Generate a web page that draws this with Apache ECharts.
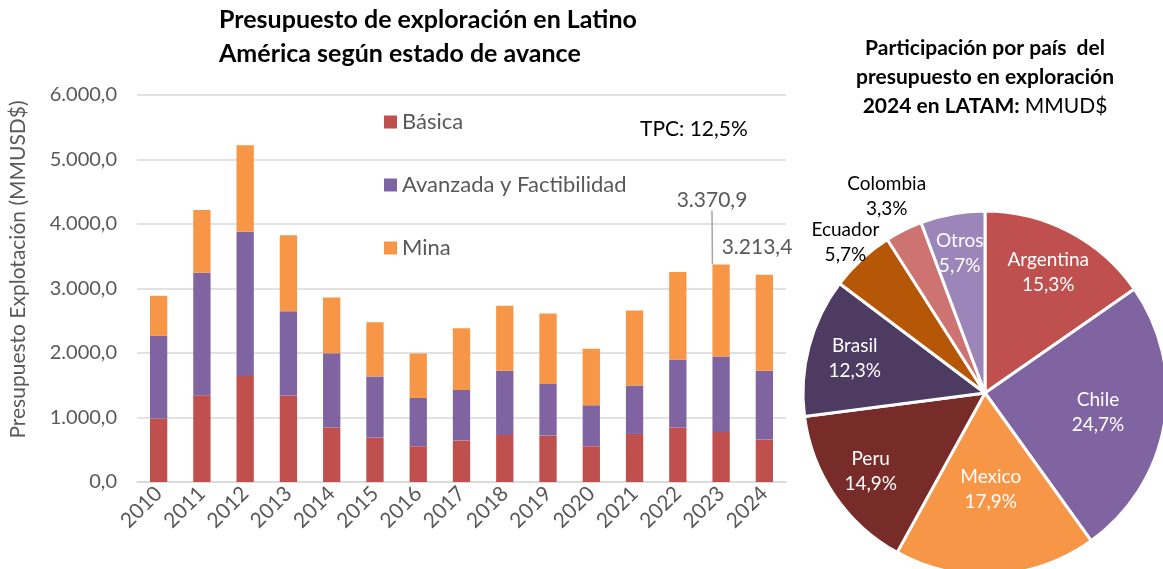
<!DOCTYPE html>
<html>
<head>
<meta charset="utf-8">
<script src="https://cdn.jsdelivr.net/npm/echarts@6/dist/echarts.min.js"></script>
<style>
  html, body { margin: 0; padding: 0; background: #fff; }
  #main { width: 1163px; height: 569px; }
</style>
</head>
<body>
<div id="main"></div>
<script>
var years = ['2010', '2011', '2012', '2013', '2014', '2015', '2016', '2017', '2018', '2019', '2020', '2021', '2022', '2023', '2024']
var basica = [984, 1345, 1645, 1341, 844, 689, 554, 642, 729, 720, 554, 745, 844, 776, 658]
var avanzada = [1282, 1899, 2235, 1308, 1153, 947, 750, 786, 994, 801, 636, 751, 1055, 1170, 1065]
var mina = [621, 973, 1340, 1175, 865, 842, 688, 957, 1008, 1092, 874, 1164, 1355, 1424.9, 1490.4]

var paises = ['Argentina', 'Chile', 'Mexico', 'Peru', 'Brasil', 'Ecuador', 'Colombia', 'Otros']
var participacion = [15.3, 24.7, 17.9, 14.9, 12.3, 5.7, 3.3, 5.7]

var font = 'Lato'
var gris = '#595959'
var pieColors = ['#C0504D', '#8064A2', '#F79646', '#772C2A', '#4D3B62', '#B65708', '#CD7371', '#9C85B8']
var pieCenter = [985, 393]
var pieR = 182
// distancia del rotulo al centro, como fraccion del radio
var labelR = [0.75, 0.63, 0.53, 0.76, 0.74, 1.13, 1.21, 0.78]

function fmt (v, d) {
  var s = v.toFixed(d).split('.')
  s[0] = s[0].replace(/\B(?=(\d{3})+(?!\d))/g, '.')
  return s.join(',')
}

var total = function (i) { return basica[i] + avanzada[i] + mina[i] }
var sumaPie = participacion.reduce(function (a, b) { return a + b }, 0)

var minaData = mina.map(function (v, i) {
  if (i >= 13) {
    return {
      value: v,
      label: {
        show: true,
        position: 'top',
        formatter: function () { return fmt(total(i), 1) }
      },
      labelLine: { show: i === 13 }
    }
  }
  return v
})

var pieData = paises.map(function (p, i) {
  var fuera = i === 5 || i === 6
  return {
    name: p,
    value: participacion[i],
    itemStyle: { color: pieColors[i] },
    label: { color: fuera ? '#000' : '#fff' }
  }
})

var myChart = echarts.init(document.getElementById('main'))
var option = {
  backgroundColor: '#fff',
  animation: false,
  textStyle: { fontFamily: font },
  title: [
    {
      text: 'Presupuesto de exploración en Latino\nAmérica según estado de avance',
      left: 219,
      top: 3,
      padding: 0,
      textStyle: { fontFamily: font, fontSize: 25, fontWeight: 'bold', color: '#000', lineHeight: 34 }
    },
    {
      text: 'Participación por país  del\npresupuesto en exploración\n{b|2024 en LATAM:} {n|MMUD$}',
      left: 985,
      top: 34,
      padding: 0,
      textAlign: 'center',
      textStyle: {
        fontFamily: font, fontSize: 21, fontWeight: 'bold', color: '#000', lineHeight: 29,
        rich: {
          b: { fontFamily: font, fontSize: 21, fontWeight: 'bold', color: '#000', lineHeight: 29 },
          n: { fontFamily: font, fontSize: 21, fontWeight: 'normal', color: '#000', lineHeight: 29 }
        }
      }
    },
    {
      text: 'TPC: 12,5%',
      left: 640,
      top: 119,
      padding: 0,
      textStyle: { fontFamily: font, fontSize: 21, fontWeight: 'normal', color: '#000' }
    }
  ],
  legend: {
    orient: 'vertical',
    left: 384,
    top: 111,
    padding: 0,
    itemGap: 41,
    itemWidth: 13,
    itemHeight: 13,
    icon: 'rect',
    data: ['Básica', 'Avanzada y Factibilidad', 'Mina'],
    textStyle: { fontFamily: font, fontSize: 22, color: gris }
  },
  grid: { left: 137, right: 377, top: 95, bottom: 87 },
  xAxis: {
    type: 'category',
    data: years,
    axisLine: { lineStyle: { color: '#D9D9D9', width: 1.5 } },
    axisTick: { show: false },
    axisLabel: { rotate: 45, fontFamily: font, fontSize: 21, color: gris, margin: 8 }
  },
  yAxis: {
    type: 'value',
    min: 0,
    max: 6000,
    interval: 1000,
    name: 'Presupuesto Explotación (MMUSD$)',
    nameLocation: 'middle',
    nameGap: 108,
    nameTextStyle: { fontFamily: font, fontSize: 21, color: gris, padding: [0, 0, 0, 38] },
    axisLine: { show: false },
    axisTick: { show: false },
    axisLabel: {
      fontFamily: font, fontSize: 20, color: gris, margin: 20,
      formatter: function (v) { return fmt(v, 1) }
    },
    splitLine: { lineStyle: { color: '#D9D9D9', width: 1.5 } }
  },
  series: [
    {
      name: 'Básica', type: 'bar', stack: 'a', barWidth: '40%',
      itemStyle: { color: '#C0504D' },
      data: basica
    },
    {
      name: 'Avanzada y Factibilidad', type: 'bar', stack: 'a',
      itemStyle: { color: '#8064A2' },
      data: avanzada
    },
    {
      name: 'Mina', type: 'bar', stack: 'a',
      itemStyle: { color: '#F79646' },
      label: { fontFamily: font, fontSize: 21, color: gris },
      labelLine: { lineStyle: { color: '#A6A6A6', width: 1.5 } },
      labelLayout: function (p) {
        if (p.dataIndex === 13) {
          return {
            x: 712, y: 200, align: 'center', verticalAlign: 'middle',
            labelLinePoints: [[712, 219], [p.rect.x + p.rect.width / 2, p.rect.y], [p.rect.x + p.rect.width / 2, p.rect.y]]
          }
        }
        if (p.dataIndex === 14) {
          return { x: 757, y: 247, align: 'center', verticalAlign: 'middle' }
        }
      },
      data: minaData
    },
    {
      type: 'pie',
      center: pieCenter,
      radius: pieR,
      startAngle: 90,
      clockwise: true,
      itemStyle: { borderColor: '#fff', borderWidth: 3 },
      label: {
        show: true,
        position: 'inside',
        fontFamily: font,
        fontSize: 19,
        lineHeight: 25,
        formatter: function (p) { return p.name + '\n' + fmt(p.value, 1) + '%' }
      },
      labelLine: { show: false },
      labelLayout: function (p) {
        var i = p.dataIndex
        var antes = 0
        for (var j = 0; j < i; j++) antes += participacion[j]
        var a = (antes + participacion[i] / 2) / sumaPie * Math.PI * 2
        var r = labelR[i] * pieR
        return {
          x: pieCenter[0] + r * Math.sin(a),
          y: pieCenter[1] - r * Math.cos(a),
          align: 'center',
          verticalAlign: 'middle'
        }
      },
      data: pieData
    }
  ]
}
myChart.setOption(option)
</script>
</body>
</html>
